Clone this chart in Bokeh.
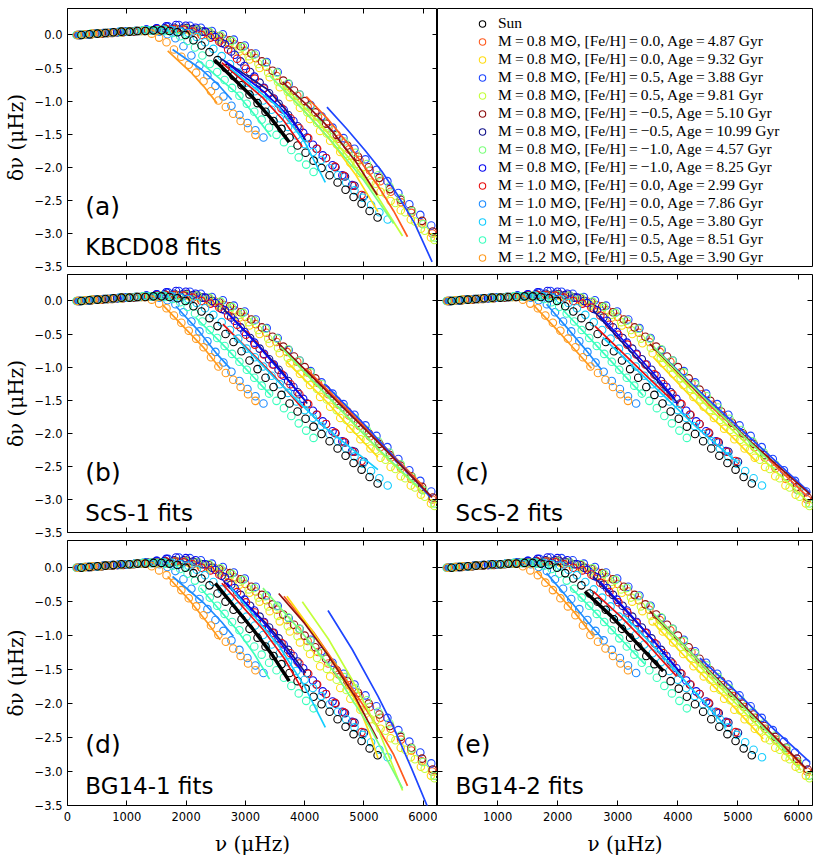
from bokeh.plotting import figure
from bokeh.layouts import gridplot
from bokeh.models import Range1d, FixedTicker, LinearAxis, Label, Legend, LegendItem, Grid
from bokeh.embed import file_html
from bokeh.resources import INLINE

# ---------------- data ----------------
x_ticks = [0, 1000, 2000, 3000, 4000, 5000, 6000]
x_tick_labels = ["0", "1000", "2000", "3000", "4000", "5000", "6000"]
y_ticks = [0.0, -0.5, -1.0, -1.5, -2.0, -2.5, -3.0, -3.5]
y_tick_labels = ["0.0", "\u22120.5", "\u22121.0", "\u22121.5", "\u22122.0", "\u22122.5", "\u22123.0", "\u22123.5"]

series_labels = [
    "Sun",
    "M\u2009=\u20090.8 M\u2299, [Fe/H]\u2009=\u20090.0, Age\u2009=\u20094.87 Gyr",
    "M\u2009=\u20090.8 M\u2299, [Fe/H]\u2009=\u20090.0, Age\u2009=\u20099.32 Gyr",
    "M\u2009=\u20090.8 M\u2299, [Fe/H]\u2009=\u20090.5, Age\u2009=\u20093.88 Gyr",
    "M\u2009=\u20090.8 M\u2299, [Fe/H]\u2009=\u20090.5, Age\u2009=\u20099.81 Gyr",
    "M\u2009=\u20090.8 M\u2299, [Fe/H]\u2009=\u2009\u22120.5, Age\u2009=\u20095.10 Gyr",
    "M\u2009=\u20090.8 M\u2299, [Fe/H]\u2009=\u2009\u22120.5, Age\u2009=\u200910.99 Gyr",
    "M\u2009=\u20090.8 M\u2299, [Fe/H]\u2009=\u2009\u22121.0, Age\u2009=\u20094.57 Gyr",
    "M\u2009=\u20090.8 M\u2299, [Fe/H]\u2009=\u2009\u22121.0, Age\u2009=\u20098.25 Gyr",
    "M\u2009=\u20091.0 M\u2299, [Fe/H]\u2009=\u20090.0, Age\u2009=\u20092.99 Gyr",
    "M\u2009=\u20091.0 M\u2299, [Fe/H]\u2009=\u20090.0, Age\u2009=\u20097.86 Gyr",
    "M\u2009=\u20091.0 M\u2299, [Fe/H]\u2009=\u20090.5, Age\u2009=\u20093.80 Gyr",
    "M\u2009=\u20091.0 M\u2299, [Fe/H]\u2009=\u20090.5, Age\u2009=\u20098.51 Gyr",
    "M\u2009=\u20091.2 M\u2299, [Fe/H]\u2009=\u20090.5, Age\u2009=\u20093.90 Gyr",
]
series_colors = ["#000000", "#ff5a1e", "#ffdc14", "#1e46ff", "#c3ff3a", "#8e1010", "#14148c",
                 "#7cff7c", "#0a0af0", "#e81010", "#1e8cff", "#14cdff", "#3cffbe", "#ff9a1e"]

# circles: nu (muHz) and delta-nu (muHz) per series
nu_s0 = [235, 370, 505, 640, 775, 910, 1045, 1180, 1315, 1450, 1585, 1720, 1855, 1990, 2125, 2260, 2395, 2530, 2665, 2800, 2935, 3070, 3205, 3340, 3475, 3610, 3745, 3880, 4015, 4150, 4285, 4420, 4555, 4690, 4825, 4960, 5095, 5230]
dnu_s0 = [0.00, 0.01, 0.02, 0.03, 0.04, 0.05, 0.05, 0.06, 0.06, 0.07, 0.07, 0.06, 0.04, 0.00, -0.08, -0.16, -0.26, -0.38, -0.50, -0.62, -0.76, -0.90, -1.03, -1.16, -1.30, -1.42, -1.55, -1.67, -1.78, -1.90, -2.01, -2.12, -2.23, -2.34, -2.45, -2.55, -2.66, -2.76]
nu_s1 = [200, 375, 550, 725, 900, 1075, 1250, 1425, 1600, 1775, 1950, 2125, 2300, 2475, 2650, 2825, 3000, 3175, 3350, 3525, 3700, 3875, 4050, 4225, 4400, 4575, 4750, 4925, 5100, 5275, 5450, 5625, 5800, 5975, 6150]
dnu_s1 = [0.00, 0.01, 0.02, 0.03, 0.04, 0.05, 0.06, 0.07, 0.08, 0.09, 0.09, 0.08, 0.05, 0.00, -0.06, -0.14, -0.24, -0.35, -0.48, -0.62, -0.77, -0.92, -1.08, -1.24, -1.41, -1.57, -1.73, -1.89, -2.05, -2.21, -2.37, -2.53, -2.69, -2.85, -3.00]
nu_s2 = [180, 350, 520, 690, 860, 1030, 1200, 1370, 1540, 1710, 1880, 2050, 2220, 2390, 2560, 2730, 2900, 3070, 3240, 3410, 3580, 3750, 3920, 4090, 4260, 4430, 4600, 4770, 4940, 5110, 5280, 5450, 5620, 5790, 5960, 6130]
dnu_s2 = [0.00, 0.01, 0.02, 0.03, 0.04, 0.05, 0.06, 0.07, 0.07, 0.08, 0.08, 0.07, 0.04, -0.01, -0.07, -0.15, -0.25, -0.37, -0.50, -0.64, -0.79, -0.94, -1.10, -1.27, -1.45, -1.60, -1.77, -1.93, -2.09, -2.23, -2.37, -2.51, -2.65, -2.79, -2.93, -3.06]
nu_s3 = [215, 400, 585, 770, 955, 1140, 1325, 1510, 1695, 1880, 2065, 2250, 2435, 2620, 2805, 2990, 3175, 3360, 3545, 3730, 3915, 4100, 4285, 4470, 4655, 4840, 5025, 5210, 5395, 5580, 5765, 5950, 6135]
dnu_s3 = [0.00, 0.01, 0.02, 0.04, 0.05, 0.06, 0.08, 0.10, 0.13, 0.15, 0.14, 0.11, 0.06, 0.01, -0.07, -0.16, -0.28, -0.41, -0.56, -0.74, -0.90, -1.06, -1.23, -1.40, -1.56, -1.72, -1.88, -2.04, -2.21, -2.39, -2.56, -2.72, -2.88]
nu_s4 = [250, 415, 580, 745, 910, 1075, 1240, 1405, 1570, 1735, 1900, 2065, 2230, 2395, 2560, 2725, 2890, 3055, 3220, 3385, 3550, 3715, 3880, 4045, 4210, 4375, 4540, 4705, 4870, 5035, 5200, 5365, 5530, 5695, 5860, 6025, 6190]
dnu_s4 = [0.00, 0.01, 0.02, 0.03, 0.04, 0.05, 0.06, 0.07, 0.08, 0.09, 0.09, 0.08, 0.05, 0.01, -0.05, -0.12, -0.21, -0.32, -0.44, -0.57, -0.71, -0.86, -1.01, -1.17, -1.33, -1.49, -1.65, -1.80, -1.95, -2.10, -2.25, -2.40, -2.54, -2.68, -2.82, -2.96, -3.10]
nu_s5 = [220, 400, 580, 760, 940, 1120, 1300, 1480, 1660, 1840, 2020, 2200, 2380, 2560, 2740, 2920, 3100, 3280, 3460, 3640, 3820, 4000, 4180, 4360, 4540, 4720, 4900, 5080, 5260, 5440, 5620, 5800, 5980, 6160]
dnu_s5 = [0.00, 0.01, 0.02, 0.03, 0.04, 0.05, 0.06, 0.07, 0.08, 0.09, 0.10, 0.08, 0.04, -0.02, -0.08, -0.17, -0.28, -0.40, -0.54, -0.69, -0.84, -1.00, -1.17, -1.34, -1.51, -1.67, -1.84, -2.00, -2.16, -2.33, -2.49, -2.65, -2.81, -2.97]
nu_s6 = [200, 360, 520, 680, 840, 1000, 1160, 1320, 1480, 1640, 1800, 1960, 2120, 2280, 2440, 2600, 2760, 2920, 3080, 3240, 3400, 3560, 3720, 3880, 4040, 4200, 4360, 4520, 4680, 4840, 5000]
dnu_s6 = [0.00, 0.01, 0.02, 0.03, 0.04, 0.05, 0.06, 0.07, 0.08, 0.10, 0.11, 0.11, 0.09, 0.05, 0.00, -0.12, -0.25, -0.40, -0.56, -0.72, -0.88, -1.04, -1.21, -1.38, -1.55, -1.72, -1.86, -2.00, -2.14, -2.28, -2.43]
nu_s7 = [300, 490, 680, 870, 1060, 1250, 1440, 1630, 1820, 2010, 2200, 2390, 2580, 2770, 2960, 3150, 3340, 3530, 3720, 3910, 4100, 4290, 4480, 4670, 4860, 5050, 5240, 5430, 5620, 5810, 6000, 6190]
dnu_s7 = [0.01, 0.02, 0.03, 0.04, 0.05, 0.06, 0.07, 0.08, 0.09, 0.09, 0.08, 0.05, -0.01, -0.09, -0.18, -0.30, -0.42, -0.57, -0.73, -0.90, -1.08, -1.26, -1.44, -1.61, -1.78, -1.95, -2.12, -2.29, -2.47, -2.66, -2.86, -3.06]
nu_s8 = [180, 345, 510, 675, 840, 1005, 1170, 1335, 1500, 1665, 1830, 1995, 2160, 2325, 2490, 2655, 2820, 2985, 3150, 3315, 3480, 3645, 3810, 3975, 4140, 4305, 4470, 4635, 4800]
dnu_s8 = [0.00, 0.01, 0.02, 0.03, 0.04, 0.05, 0.06, 0.08, 0.10, 0.13, 0.15, 0.14, 0.11, 0.05, -0.03, -0.14, -0.30, -0.47, -0.63, -0.80, -0.96, -1.13, -1.30, -1.48, -1.66, -1.82, -1.97, -2.12, -2.27]
nu_s9 = [160, 310, 460, 610, 760, 910, 1060, 1210, 1360, 1510, 1660, 1810, 1960, 2110, 2260, 2410, 2560, 2710, 2860, 3010, 3160, 3310, 3460, 3610, 3760, 3910, 4060, 4210, 4360, 4510, 4660, 4810, 4960]
dnu_s9 = [0.00, 0.01, 0.02, 0.03, 0.04, 0.05, 0.05, 0.06, 0.07, 0.08, 0.09, 0.09, 0.08, 0.05, 0.00, -0.04, -0.10, -0.22, -0.36, -0.51, -0.66, -0.81, -0.96, -1.11, -1.26, -1.41, -1.56, -1.72, -1.86, -1.99, -2.13, -2.28, -2.42]
nu_s10 = [200, 335, 470, 605, 740, 875, 1010, 1145, 1280, 1415, 1550, 1685, 1820, 1955, 2090, 2225, 2360, 2495, 2630, 2765, 2900, 3035, 3170, 3305]
dnu_s10 = [0.00, 0.01, 0.02, 0.03, 0.04, 0.05, 0.05, 0.06, 0.07, 0.07, 0.05, 0.01, -0.05, -0.17, -0.31, -0.46, -0.61, -0.77, -0.93, -1.07, -1.21, -1.33, -1.44, -1.55]
nu_s11 = [220, 360, 500, 640, 780, 920, 1060, 1200, 1340, 1480, 1620, 1760, 1900, 2040, 2180, 2320, 2460, 2600, 2740, 2880, 3020, 3160, 3300, 3440, 3580, 3720, 3860, 4000, 4140, 4280, 4420, 4560, 4700, 4840, 4980, 5120, 5260, 5400]
dnu_s11 = [0.00, 0.01, 0.02, 0.03, 0.04, 0.05, 0.05, 0.06, 0.07, 0.07, 0.08, 0.07, 0.05, 0.03, -0.03, -0.11, -0.21, -0.32, -0.44, -0.57, -0.72, -0.85, -0.99, -1.13, -1.26, -1.39, -1.52, -1.65, -1.77, -1.89, -2.01, -2.12, -2.23, -2.35, -2.46, -2.57, -2.68, -2.79]
nu_s12 = [150, 275, 400, 525, 650, 775, 900, 1025, 1150, 1275, 1400, 1525, 1650, 1775, 1900, 2025, 2150, 2275, 2400, 2525, 2650, 2775, 2900, 3025, 3150, 3275, 3400, 3525, 3650, 3775, 3900, 4025, 4150]
dnu_s12 = [0.00, 0.01, 0.02, 0.02, 0.03, 0.04, 0.05, 0.05, 0.06, 0.07, 0.07, 0.07, 0.06, 0.03, -0.02, -0.09, -0.19, -0.31, -0.44, -0.56, -0.68, -0.80, -0.92, -1.04, -1.16, -1.28, -1.40, -1.51, -1.62, -1.74, -1.85, -1.96, -2.07]
nu_s13 = [170, 295, 420, 545, 670, 795, 920, 1045, 1170, 1295, 1420, 1545, 1670, 1795, 1920, 2045, 2170, 2295, 2420, 2545, 2670, 2795, 2920, 3045, 3170]
dnu_s13 = [0.00, 0.01, 0.02, 0.02, 0.03, 0.04, 0.05, 0.05, 0.06, 0.06, 0.02, -0.04, -0.11, -0.22, -0.33, -0.45, -0.57, -0.70, -0.85, -0.99, -1.09, -1.19, -1.30, -1.41, -1.51]

# fitted curves per panel, one entry per series (None = no curve)
fit_a_nu = [[2480, 3130, 3450, 3739], [4027, 4380, 4736, 5250, 5500, 5734], [3628, 4050, 4459, 4850, 5235],
            [4376, 4700, 5013, 5300, 5567, 5850, 6149], [3628, 4200, 4736, 5200, 5650], [3628, 4050, 4459, 4850, 5224],
            [2590, 3370, 3700, 4016], [3407, 3900, 4400, 5000, 5500], [2650, 3300, 3700, 4000], [2603, 3296, 3650, 3960],
            [1772, 2243, 2550, 2769], [2742, 3573, 4000, 4348], [2187, 2852, 3150, 3434], [1690, 2077, 2300, 2520]]
fit_a_dnu = [[-0.38, -0.95, -1.28, -1.62], [-0.93, -1.26, -1.65, -2.30, -2.66, -3.05], [-0.81, -1.20, -1.62, -2.10, -2.67],
             [-1.09, -1.41, -1.74, -2.06, -2.42, -2.84, -3.43], [-0.76, -1.28, -1.85, -2.40, -3.04], [-0.71, -1.07, -1.45, -1.90, -2.42],
             [-0.36, -0.82, -1.15, -1.59], [-0.61, -1.06, -1.55, -2.20, -2.85], [-0.40, -0.85, -1.20, -1.55], [-0.42, -0.95, -1.30, -1.69],
             [-0.22, -0.51, -0.76, -0.98], [-0.50, -1.10, -1.62, -2.23], [-0.37, -0.88, -1.20, -1.54], [-0.24, -0.56, -0.78, -1.03]]
fit_b_nu = [None, [4016, 4700, 5400, 6000], [3700, 4400, 4800, 5235], [4348, 5000, 5600, 6121],
            [3700, 4500, 5300, 6000], [3545, 4300, 5200, 6150], [2620, 3100, 3600, 4043], [3600, 4400, 5200, 5900],
            [2700, 3200, 3700, 4000], [2620, 3100, 3500, 3960], [1828, 2200, 2500, 2742], [2800, 3500, 4300, 5235],
            [2160, 2600, 3000, 3434], [1606, 2000, 2300, 2576]]
fit_b_dnu = [None, [-1.02, -1.62, -2.25, -2.80], [-0.92, -1.55, -1.95, -2.36], [-1.26, -1.86, -2.45, -2.97],
             [-0.80, -1.55, -2.30, -2.90], [-0.63, -1.30, -2.10, -2.97], [-0.11, -0.55, -1.05, -1.55], [-0.70, -1.45, -2.20, -2.80],
             [-0.18, -0.66, -1.18, -1.50], [-0.35, -0.78, -1.15, -1.62], [-0.08, -0.44, -0.78, -1.02], [-0.52, -1.17, -1.88, -2.55],
             [-0.25, -0.64, -1.02, -1.43], [-0.06, -0.43, -0.71, -1.02]]
fit_c_nu = [None, [3700, 4500, 5400, 6150], [3590, 4400, 4900, 5310], [3600, 4400, 5300, 6200],
            [3650, 4500, 5400, 6150], [3534, 4300, 5200, 6197], [2592, 3100, 3550, 4006], [3600, 4500, 5000, 5500],
            [2700, 3200, 3600, 3950], [2620, 3100, 3500, 3900], [1815, 2150, 2450, 2730], [2750, 3500, 4300, 5000],
            [2093, 2550, 3000, 3424], [1594, 1950, 2250, 2564]]
fit_c_dnu = [None, [-0.80, -1.55, -2.30, -2.95], [-0.85, -1.62, -2.05, -2.43], [-0.70, -1.40, -2.15, -2.90],
             [-0.80, -1.60, -2.38, -3.02], [-0.65, -1.35, -2.12, -2.92], [-0.14, -0.65, -1.10, -1.55], [-0.70, -1.52, -1.96, -2.40],
             [-0.22, -0.70, -1.10, -1.48], [-0.38, -0.80, -1.15, -1.50], [-0.05, -0.40, -0.72, -1.04], [-0.55, -1.20, -1.90, -2.45],
             [-0.14, -0.58, -1.02, -1.43], [-0.06, -0.40, -0.70, -1.02]]
fit_d_nu = [[2493, 3130, 3450, 3739], [3650, 4150, 4600, 5200, 5500, 5734], [3700, 4100, 4500, 4900, 5100, 5235],
            [4393, 4800, 5235, 5500, 5800, 6120], [3960, 4400, 4800, 5250, 5651], [3562, 4000, 4404, 4850, 5224],
            [2631, 3351, 3700, 4016], [3296, 3900, 4514, 5100, 5651], [2680, 3300, 3650, 3950], [2603, 3296, 3650, 3960],
            [1772, 2298, 2600, 2797], [2742, 3573, 4000, 4348], [2243, 2852, 3150, 3407], [1689, 2077, 2350, 2576]]
fit_d_dnu = [[-0.23, -0.91, -1.28, -1.67], [-0.42, -0.95, -1.52, -2.30, -2.75, -3.21], [-0.42, -0.90, -1.42, -2.02, -2.45, -2.80],
             [-0.63, -1.20, -1.89, -2.35, -2.95, -3.62], [-0.50, -1.05, -1.65, -2.40, -3.28], [-0.38, -0.82, -1.30, -1.90, -2.52],
             [-0.20, -0.82, -1.18, -1.55], [-0.30, -0.90, -1.55, -2.35, -3.25], [-0.22, -0.80, -1.17, -1.52], [-0.23, -0.91, -1.33, -1.79],
             [-0.13, -0.52, -0.80, -1.01], [-0.28, -1.16, -1.75, -2.35], [-0.30, -0.91, -1.27, -1.64], [-0.13, -0.50, -0.80, -1.06]]
fit_e_nu = [[2453, 2900, 3350, 3757], [3650, 4500, 5400, 6100], [3590, 4300, 4900, 5421], [4367, 5000, 5600, 6197],
            [3650, 4500, 5300, 6050], [3534, 4300, 5200, 6140], [2592, 3100, 3600, 4061], [3600, 4400, 5200, 5800],
            [2700, 3200, 3650, 4000], [2592, 3050, 3500, 3979], [1815, 2200, 2500, 2758], [3091, 3700, 4300, 4810],
            [2203, 2650, 3050, 3451], [1649, 2000, 2300, 2592]]
fit_e_dnu = [[-0.35, -0.72, -1.14, -1.52], [-0.72, -1.52, -2.32, -2.94], [-0.81, -1.48, -2.02, -2.52], [-1.33, -1.85, -2.38, -2.86],
             [-0.78, -1.58, -2.30, -2.98], [-0.64, -1.32, -2.12, -2.96], [-0.13, -0.60, -1.08, -1.57], [-0.68, -1.42, -2.15, -2.70],
             [-0.20, -0.68, -1.13, -1.50], [-0.35, -0.72, -1.13, -1.60], [-0.08, -0.48, -0.80, -1.06], [-0.69, -1.25, -1.85, -2.35],
             [-0.28, -0.68, -1.05, -1.42], [-0.06, -0.38, -0.68, -1.01]]

panel_tags = ["(a)", "(b)", "(c)", "(d)", "(e)"]
panel_names = ["KBCD08 fits", "ScS-1 fits", "ScS-2 fits", "BG14-1 fits", "BG14-2 fits"]

# ---------------- build ----------------
circ_nu = [nu_s0, nu_s1, nu_s2, nu_s3, nu_s4, nu_s5, nu_s6, nu_s7, nu_s8, nu_s9, nu_s10, nu_s11, nu_s12, nu_s13]
circ_dnu = [dnu_s0, dnu_s1, dnu_s2, dnu_s3, dnu_s4, dnu_s5, dnu_s6, dnu_s7, dnu_s8, dnu_s9, dnu_s10, dnu_s11, dnu_s12, dnu_s13]
fits_nu = [fit_a_nu, fit_b_nu, fit_c_nu, fit_d_nu, fit_e_nu]
fits_dnu = [fit_a_dnu, fit_b_dnu, fit_c_dnu, fit_d_dnu, fit_e_dnu]

FRAME_W, FRAME_H = 375, 266
LEFT_B, RIGHT_B, TOP_B, BOTTOM_B = 62, 4, 8, 52
OVER = 8          # bottom overhang of the upper left panels (room for their "-3.5" label)
X_MAX = 6240
Y_MIN, Y_MAX = -3.5, 0.4
TICK_FONT = "DejaVu Sans"
TICK_SIZE = "11.5px"


def add_axis(p, side, ticks, labels, show, axis_label=None, label_standoff=4, title_standoff=4):
    ax = LinearAxis(ticker=FixedTicker(ticks=ticks))
    ax.axis_line_color = None
    ax.major_tick_in = 5
    ax.major_tick_out = 0
    ax.major_tick_line_color = "black"
    ax.major_tick_line_width = 1
    ax.minor_tick_line_color = None
    if show:
        ax.major_label_overrides = {t: l for t, l in zip(ticks, labels)}
        ax.major_label_text_font = TICK_FONT
        ax.major_label_text_font_size = TICK_SIZE
        ax.major_label_text_color = "black"
        ax.major_label_standoff = label_standoff
    else:
        ax.major_label_overrides = {t: "" for t in ticks}
        ax.major_label_text_font_size = "0px"
        ax.major_label_standoff = 0
    if axis_label is not None:
        ax.axis_label = axis_label
        ax.axis_label_text_font = "DejaVu Serif"
        ax.axis_label_text_font_size = "20px"
        ax.axis_label_text_font_style = "normal"
        ax.axis_label_text_color = "black"
        ax.axis_label_standoff = title_standoff
    p.add_layout(ax, side)
    return ax


def make_panel(k, left_col, top_row, bottom_row, show_zero=True):
    overhang = OVER if (left_col and not bottom_row) else 0
    w = FRAME_W + (LEFT_B if left_col else RIGHT_B)
    h = FRAME_H + (BOTTOM_B if bottom_row else overhang) + (TOP_B if top_row else 0)
    p = figure(width=w, height=h, x_range=Range1d(0, X_MAX), y_range=Range1d(Y_MIN, Y_MAX),
               output_backend="svg", toolbar_location=None,
               x_axis_location=None, y_axis_location=None,
               min_border_left=LEFT_B if left_col else 0,
               min_border_right=0 if left_col else RIGHT_B,
               min_border_top=TOP_B if top_row else 0,
               min_border_bottom=BOTTOM_B if bottom_row else overhang)
    p.outline_line_color = "black"
    p.outline_line_width = 1
    p.outline_line_alpha = 1
    p.background_fill_color = "white"
    if left_col and not top_row:
        p.border_fill_color = None      # let the label of the panel above show through
    else:
        p.border_fill_color = "white"
    if overhang:
        try:
            p.margin = (0, 0, -overhang, 0)
        except Exception:
            p.styles = {"margin-bottom": "-%dpx" % overhang}

    add_axis(p, "left", y_ticks, y_tick_labels, left_col,
             axis_label="\u03b4\u03bd (\u03bcHz)" if left_col else None, label_standoff=5, title_standoff=4)
    xl = list(x_tick_labels) if show_zero else [""] + list(x_tick_labels[1:])
    add_axis(p, "below", x_ticks, xl, bottom_row,
             axis_label="\u03bd (\u03bcHz)" if bottom_row else None, label_standoff=6, title_standoff=8)
    add_axis(p, "right", y_ticks, y_tick_labels, False)
    add_axis(p, "above", x_ticks, x_tick_labels, False)
    for r in list(p.center):
        if isinstance(r, Grid):
            r.visible = False

    order = list(range(1, len(circ_nu))) + [0]
    for i in order:
        n = min(len(circ_nu[i]), len(circ_dnu[i]))
        p.scatter(x=circ_nu[i][:n], y=circ_dnu[i][:n], marker="circle", size=7.5,
                  fill_color=None, line_color=series_colors[i], line_width=1.1)
    for i in order:
        fx, fy = fits_nu[k][i], fits_dnu[k][i]
        if fx is None:
            continue
        n = min(len(fx), len(fy))
        p.line(x=fx[:n], y=fy[:n], line_color=series_colors[i],
               line_width=3.5 if i == 0 else 1.7)

    p.add_layout(Label(x=300, y=-2.60, text=panel_tags[k], text_font="DejaVu Sans",
                       text_font_size="25px", text_color="black", text_baseline="alphabetic"))
    p.add_layout(Label(x=300, y=-3.21, text=panel_names[k], text_font="DejaVu Sans",
                       text_font_size="23px", text_color="black", text_baseline="alphabetic"))
    return p


pa = make_panel(0, True, True, False)
pb = make_panel(1, True, False, False)
pc = make_panel(2, False, False, False)
pd = make_panel(3, True, False, True)
pe = make_panel(4, False, False, True, show_zero=False)

# legend panel
pl = figure(width=FRAME_W + RIGHT_B, height=FRAME_H + TOP_B, x_range=Range1d(0, 1), y_range=Range1d(0, 1),
            output_backend="svg", toolbar_location=None, x_axis_location=None, y_axis_location=None,
            min_border_left=0, min_border_right=RIGHT_B, min_border_top=TOP_B, min_border_bottom=0)
pl.outline_line_color = "black"
pl.outline_line_width = 1
pl.outline_line_alpha = 1
for r in list(pl.center):
    if isinstance(r, Grid):
        r.visible = False
items = []
nan = float("nan")
for i in range(len(series_labels)):
    r = pl.scatter(x=[nan], y=[nan], marker="circle", size=7, fill_color=None,
                   line_color=series_colors[i], line_width=1.1)
    items.append(LegendItem(label=series_labels[i], renderers=[r]))
leg = Legend(items=items, location=(37, 0), padding=0, margin=0, spacing=0,
             glyph_width=16, glyph_height=17, label_height=17, label_standoff=8,
             label_text_font="Liberation Serif", label_text_font_size="15.5px",
             label_text_line_height=1.0, label_text_color="black",
             border_line_color=None, background_fill_alpha=0)
pl.add_layout(leg)

grid = gridplot([[pa, pl], [pb, pc], [pd, pe]], toolbar_location=None)

open("out.html", "w").write(file_html(grid, INLINE))
